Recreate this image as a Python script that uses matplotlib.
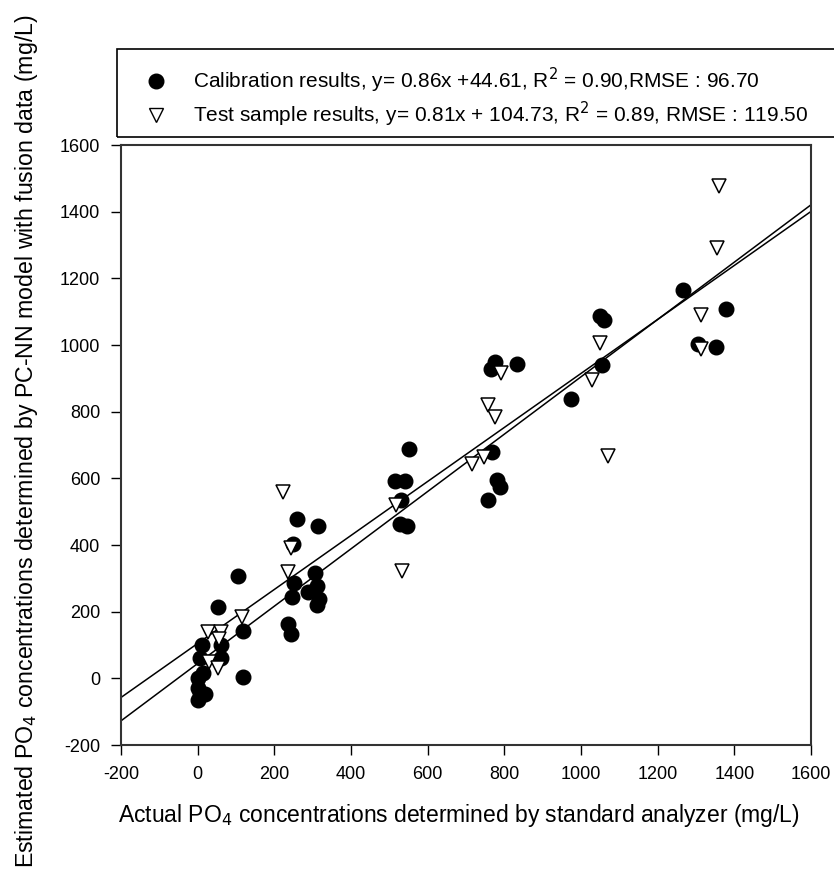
import matplotlib
matplotlib.use("Agg")
import matplotlib.pyplot as plt
from matplotlib.lines import Line2D
from matplotlib.patches import Rectangle

plt.rcParams['font.family'] = ['Liberation Sans', 'DejaVu Sans']
plt.rcParams['axes.unicode_minus'] = False

# calibration points (actual, estimated)
cal_x = [1266, 1378, 1306, 1353, 1050, 1060, 1055, 975, 775, 766, 834, 768, 781, 789, 757,
         552, 515, 541, 530, 528, 545, 259, 315, 249, 105, 306, 252, 311, 288, 246, 316, 311,
         54, 236, 244, 118, 118, 10, 62, 5, 62, 15, 0, 2, 20, 0, 5]
cal_y = [1164, 1107, 1002, 993, 1086, 1074, 939, 837, 948, 927, 942, 678, 594, 573, 534,
         688, 591, 591, 534, 462, 458, 477, 456, 402, 306, 315, 285, 276, 258, 243, 237, 219,
         213, 162, 132, 141, 5, 100, 100, 60, 60, 15, 0, -30, -48, -65, -45]

# test sample points
test_x = [1360, 1354, 1313, 1313, 1050, 1029, 791, 757, 776, 1071, 748, 716, 517, 533,
          222, 244, 236, 115, 27, 60, 56, 30, 53]
test_y = [1476, 1290, 1089, 987, 1005, 894, 915, 819, 783, 666, 663, 642, 519, 321,
          558, 390, 318, 183, 138, 138, 117, 48, 30]

# regression lines from the legend
cal_fit = (0.86, 44.61)
test_fit = (0.81, 104.73)
line_x = [-200, 1600]

fig = plt.figure(figsize=(8.34, 8.72), dpi=100)
ax = fig.add_axes([0.1451, 0.1456, 0.8273, 0.6881])

ax.plot(line_x, [cal_fit[0] * v + cal_fit[1] for v in line_x], color='black', lw=1.1)
ax.plot(line_x, [test_fit[0] * v + test_fit[1] for v in line_x], color='black', lw=1.1)
ax.plot(cal_x, cal_y, 'o', color='black', ms=10.5, zorder=3)
ax.plot(test_x, test_y, 'v', mfc='white', mec='black', mew=1.1, ms=10.5, zorder=4)

ax.set_xlim(-200, 1600)
ax.set_ylim(-200, 1600)
ax.set_xticks(range(-200, 1601, 200))
ax.set_yticks(range(-200, 1601, 200))
ax.tick_params(direction='out', length=7, width=1, labelsize=13, pad=8)
for s in ax.spines.values():
    s.set_linewidth(1.5)
    s.set_color('#333333')

ax.set_xlabel('Actual PO$_4$ concentrations determined by standard analyzer (mg/L)',
              fontsize=16.5)
ax.set_ylabel('Estimated PO$_4$ concentrations determined by PC-NN model with fusion data (mg/L)',
              fontsize=16.7)
ax.xaxis.set_label_coords(0.49, -0.095)
ax.yaxis.set_label_coords(-0.117, 0.506)

# legend box (runs off the right edge)
fig.patches.append(Rectangle((117 / 834, 1 - 137 / 872), 0.9, 88 / 872,
                             transform=fig.transFigure, fill=False,
                             edgecolor='black', lw=1.2))
handles = [
    Line2D([], [], ls='none', marker='o', color='black', ms=10.5),
    Line2D([], [], ls='none', marker='v', mfc='white', mec='black', ms=10.5),
]
labels = [
    'Calibration results, y= 0.86x +44.61, R$^2$ = 0.90,RMSE : 96.70',
    'Test sample results, y= 0.81x + 104.73, R$^2$ = 0.89, RMSE : 119.50',
]
fig.legend(handles, labels, loc='upper left', bbox_to_anchor=(135 / 834, 1 - 66 / 872),
           frameon=False, fontsize=15, handletextpad=0.8, labelspacing=0.22,
           borderaxespad=0, borderpad=0)

fig.savefig('out.png', dpi=100)
